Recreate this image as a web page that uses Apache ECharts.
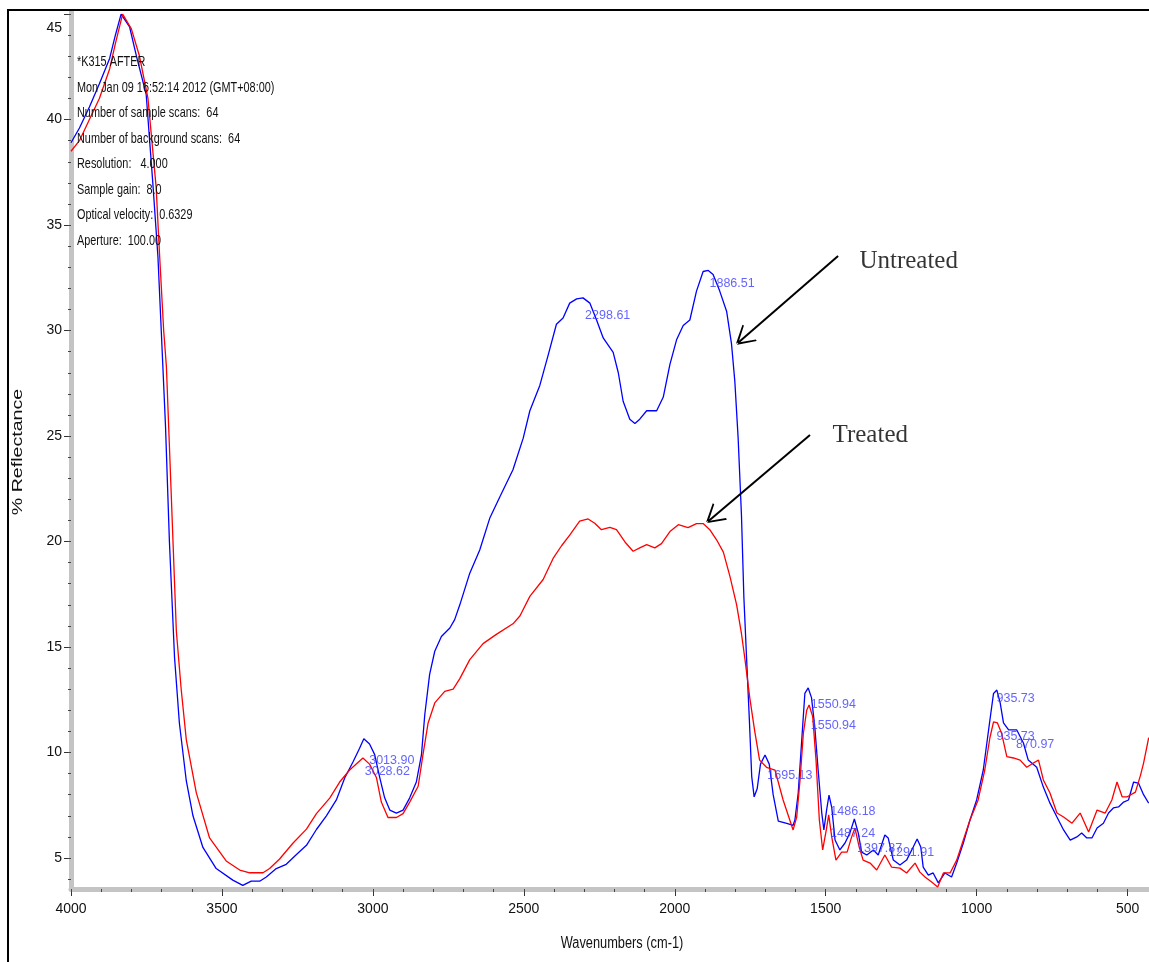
<!DOCTYPE html>
<html>
<head>
<meta charset="utf-8">
<script src="https://cdn.jsdelivr.net/npm/echarts@6/dist/echarts.min.js"></script>
<style>
  html, body { margin: 0; padding: 0; background: #fff; }
  #chart { width: 1149px; height: 962px; }
</style>
</head>
<body>
<div id="chart"></div>
<script>
const SANS = "'Liberation Sans Narrow', 'Arial Narrow', 'Liberation Sans', Arial, sans-serif"

// untreated (blue) spectrum
const untreatedWn = [
  4000, 3972, 3939, 3906, 3872, 3853, 3834, 3806, 3783, 3751,
  3729, 3712, 3701, 3687, 3674, 3657, 3641, 3618, 3596, 3563,
  3519, 3464, 3431, 3403, 3375, 3353, 3320, 3287, 3254, 3220,
  3187, 3154, 3121, 3093, 3066, 3044, 3030, 3011, 2994, 2977,
  2961, 2944, 2922, 2900, 2878, 2856, 2839, 2828, 2812, 2795,
  2773, 2745, 2729, 2712, 2679, 2646, 2613, 2580, 2536, 2502,
  2480, 2447, 2420, 2392, 2370, 2348, 2325, 2304, 2281, 2259,
  2237, 2204, 2187, 2171, 2149, 2132, 2116, 2093, 2060, 2038,
  2016, 1994, 1972, 1950, 1928, 1906, 1889, 1873, 1851, 1828,
  1812, 1801, 1790, 1779, 1771, 1762, 1753, 1745, 1737, 1727,
  1716, 1701, 1687, 1674, 1657, 1629, 1608, 1602, 1591, 1580,
  1569, 1558, 1547, 1536, 1525, 1513, 1506, 1497, 1489, 1480,
  1469, 1453, 1436, 1420, 1405, 1392, 1381, 1364, 1342, 1326,
  1304, 1293, 1276, 1254, 1232, 1210, 1197, 1185, 1177, 1160,
  1144, 1127, 1105, 1083, 1066, 1044, 1022, 1000, 978, 956,
  944, 933, 922, 911, 894, 867, 845, 829, 801, 779,
  757, 734, 712, 690, 668, 652, 635, 618, 601, 580,
  563, 547, 530, 513, 497, 480, 464, 447, 430
]
const untreatedR = [
  38.9, 39.6, 40.6, 41.7, 42.9, 44.0, 45.0, 44.4, 43.0, 41.2,
  37.0, 33.5, 30.0, 25.5, 20.0, 14.5, 11.4, 8.65, 7.0, 5.5,
  4.5, 3.95, 3.7, 3.9, 3.9, 4.1, 4.5, 4.7, 5.15, 5.6,
  6.35, 7.0, 7.75, 8.8, 9.55, 10.2, 10.65, 10.4, 9.9, 8.8,
  7.85, 7.27, 7.13, 7.27, 7.85, 8.6, 9.9, 11.8, 13.7, 14.8,
  15.5, 15.9, 16.3, 17.0, 18.5, 19.6, 21.1, 22.1, 23.4, 24.9,
  26.2, 27.4, 28.8, 30.3, 30.6, 31.3, 31.5, 31.55, 31.3, 30.5,
  29.65, 28.97, 28.0, 26.65, 25.8, 25.6, 25.8, 26.2, 26.2, 26.85,
  28.4, 29.56, 30.24, 30.5, 31.87, 32.8, 32.85, 32.66, 31.87, 30.9,
  29.37, 27.6, 24.9, 21.25, 17.35, 14.45, 11.6, 8.86, 7.9, 8.28,
  9.45, 9.88, 9.45, 8.0, 6.75, 6.64, 6.55, 6.8, 8.08, 10.45,
  12.8, 13.06, 12.6, 11.2, 9.17, 7.13, 6.33, 7.27, 7.98, 7.4,
  5.85, 5.38, 5.71, 6.18, 6.85, 6.18, 5.28, 5.14, 5.38, 5.14,
  6.09, 5.95, 4.9, 4.67, 4.9, 5.52, 5.9, 5.52, 4.57, 4.19,
  4.29, 3.82, 4.29, 4.1, 4.76, 5.71, 6.8, 7.75, 9.17, 11.54,
  12.8, 12.96, 12.35, 11.4, 11.07, 11.07, 10.45, 9.64, 9.3, 8.36,
  7.6, 6.94, 6.33, 5.85, 6.0, 6.18, 5.95, 5.95, 6.42, 6.65,
  7.13, 7.37, 7.42, 7.65, 7.75, 8.6, 8.55, 8.0, 7.6
]

// treated (red) spectrum
const treatedWn = [
  4000, 3972, 3939, 3906, 3872, 3853, 3829, 3800, 3773, 3745,
  3718, 3707, 3693, 3684, 3668, 3651, 3635, 3618, 3585, 3541,
  3486, 3441, 3408, 3364, 3342, 3309, 3265, 3220, 3187, 3143,
  3110, 3077, 3033, 3011, 2988, 2972, 2950, 2922, 2900, 2878,
  2850, 2834, 2817, 2795, 2762, 2734, 2712, 2679, 2635, 2591,
  2536, 2513, 2480, 2436, 2403, 2375, 2348, 2315, 2287, 2265,
  2243, 2215, 2193, 2165, 2138, 2116, 2093, 2066, 2044, 2016,
  1988, 1956, 1928, 1906, 1884, 1861, 1839, 1817, 1795, 1779,
  1768, 1751, 1735, 1719, 1696, 1668, 1641, 1619, 1608, 1596,
  1585, 1574, 1563, 1555, 1543, 1532, 1521, 1510, 1498, 1490,
  1480, 1466, 1447, 1429, 1414, 1403, 1389, 1376, 1353, 1331,
  1304, 1282, 1254, 1232, 1204, 1188, 1171, 1149, 1129, 1110,
  1088, 1066, 1044, 1022, 995, 973, 956, 944, 931, 917,
  900, 878, 856, 834, 812, 795, 779, 757, 734, 712,
  684, 657, 629, 601, 574, 552, 535, 518, 501, 474,
  457, 447, 430
]
const treatedR = [
  38.5, 39.0, 40.0, 41.0, 42.4, 43.6, 45.0, 44.3, 43.0, 41.0,
  36.8, 33.7, 30.0, 28.3, 22.25, 15.75, 13.0, 10.6, 8.1, 5.95,
  4.86, 4.43, 4.3, 4.3, 4.5, 4.95, 5.7, 6.37, 7.1, 7.84,
  8.6, 9.17, 9.74, 9.45, 8.8, 7.65, 6.92, 6.92, 7.1, 7.65,
  8.4, 9.9, 11.4, 12.35, 12.9, 13.0, 13.5, 14.4, 15.16, 15.6,
  16.1, 16.47, 17.4, 18.2, 19.2, 19.8, 20.3, 20.97, 21.07, 20.87,
  20.56, 20.67, 20.56, 19.98, 19.54, 19.7, 19.85, 19.7, 19.9, 20.47,
  20.8, 20.66, 20.85, 20.85, 20.56, 20.07, 19.5, 18.34, 17.0, 15.63,
  14.48, 12.54, 11.0, 9.64, 9.3, 9.17, 7.75, 6.8, 6.33, 6.94,
  8.7, 10.9, 12.0, 12.25, 11.7, 9.64, 6.8, 5.38, 6.33, 7.04,
  6.0, 4.9, 5.28, 5.28, 6.0, 6.42, 5.52, 4.9, 4.76, 4.43,
  5.14, 4.57, 4.52, 4.29, 4.76, 4.33, 4.1, 3.86, 3.62, 4.29,
  4.29, 4.9, 5.85, 6.8, 7.75, 9.17, 10.7, 11.45, 11.4, 10.9,
  9.8, 9.74, 9.64, 9.3, 9.5, 9.64, 8.7, 8.08, 7.13, 6.94,
  6.65, 7.13, 6.23, 7.27, 7.13, 7.75, 8.6, 7.9, 7.9, 8.12,
  8.93, 9.5, 10.7
]

// peak annotations (label text doubles as its wavenumber)
const peakLabels = ['2298.61', '1886.51', '3013.90', '3028.62', '1695.13', '1550.94', '1550.94',
  '1486.18', '1487.24', '1397.87', '1291.91', '935.73', '935.73', '870.97']
const peakLabelY = [30.72, 32.23, 9.64, 9.08, 8.93, 12.25, 11.3, 7.2, 6.17, 5.46, 5.25, 12.57, 10.75, 10.36]

const xTickLabels = [4000, 3500, 3000, 2500, 2000, 1500, 1000, 500]
const yTickLabels = [5, 10, 15, 20, 25, 30, 35, 40, 45]
const xMinorTicks = []
for (let v = 500; v <= 4000; v += 100) xMinorTicks.push(v)
const yMinorTicks = []
for (let v = 4; v <= 45; v++) yMinorTicks.push(v)

const infoLines = [
  '*K315 AFTER',
  'Mon Jan 09 16:52:14 2012 (GMT+08:00)',
  'Number of sample scans:  64',
  'Number of background scans:  64',
  'Resolution:   4.000',
  'Sample gain:  8.0',
  'Optical velocity:  0.6329',
  'Aperture:  100.00'
]

// arrow annotations: [tail, tip] in data coords, and their captions
const arrowNames = ['Untreated', 'Treated']
const arrowTail = [[1459, 33.53], [1552, 25.05]]
const arrowTip = [[1791, 29.41], [1890, 20.95]]
const captionPos = [[1390, 33.29], [1479, 25.05]]

const pairs = (xs, ys) => xs.map((x, i) => [x, ys[i]])

const X_MIN = 429, X_MAX = 4000, Y_MIN = 3.53, Y_MAX = 45.1
const HIDDEN = 'rgba(0,0,0,0)'
// open "V" arrow head in a 32x32 box; tiny corner sub-paths pin the box so the tip sits at the centre
const ARROW_HEAD = 'path://M0,0 L0.02,0 L0,0.02 Z M32,0 L31.98,0 L32,0.02 Z M0,32 L0.02,32 L0,31.98 Z' +
  ' M16.86,14.49 L26.86,31.49 L25.14,32 L15.14,15.51 Z' +
  ' M15.14,14.49 L5.14,31.49 L6.86,32 L16.86,15.51 Z'

const chart = echarts.init(document.getElementById('chart'))

const option = {
  animation: false,
  backgroundColor: '#fff',
  grid: { left: 71, right: 0, top: 12, bottom: 73 },
  xAxis: [
    {
      type: 'value', inverse: true, min: X_MIN, max: X_MAX, position: 'bottom',
      axisLine: { show: true, lineStyle: { color: '#c4c4c4', width: 5 } },
      axisTick: { show: true, customValues: xTickLabels, length: 7, lineStyle: { color: '#333', width: 1 } },
      axisLabel: {
        customValues: xTickLabels, margin: 13, color: '#111',
        fontFamily: SANS, fontSize: 14, formatter: v => String(v)
      },
      splitLine: { show: false }
    },
    {
      type: 'value', inverse: true, min: X_MIN, max: X_MAX, position: 'bottom', offset: 0,
      axisLine: { show: false },
      axisTick: { show: true, customValues: xMinorTicks, length: 3, lineStyle: { color: '#444', width: 1 } },
      axisLabel: { show: false },
      splitLine: { show: false }
    }
  ],
  yAxis: [
    {
      type: 'value', min: Y_MIN, max: Y_MAX, position: 'left',
      axisLine: { show: true, lineStyle: { color: '#c4c4c4', width: 5 } },
      axisTick: { show: true, customValues: yTickLabels, length: 7, lineStyle: { color: '#333', width: 1 } },
      axisLabel: {
        customValues: yTickLabels, margin: 9, color: '#111',
        fontFamily: SANS, fontSize: 14,
        formatter: v => (v === 45 ? '{top|45}' : String(v)),
        rich: { top: { fontFamily: SANS, fontSize: 14, color: '#111', padding: [28, 0, 0, 0] } }
      },
      splitLine: { show: false }
    },
    {
      type: 'value', min: Y_MIN, max: Y_MAX, position: 'left', offset: 0,
      axisLine: { show: false },
      axisTick: { show: true, customValues: yMinorTicks, length: 3, lineStyle: { color: '#444', width: 1 } },
      axisLabel: { show: false },
      splitLine: { show: false }
    }
  ],
  series: [
    {
      name: 'Untreated', type: 'line', data: pairs(untreatedWn, untreatedR),
      showSymbol: false, symbol: 'none', silent: true,
      lineStyle: { color: '#0000ff', width: 1.3 }, z: 3
    },
    {
      name: 'Treated', type: 'line', data: pairs(treatedWn, treatedR),
      showSymbol: false, symbol: 'none', silent: true,
      lineStyle: { color: '#ff0000', width: 1.3 }, z: 4
    },
    {
      name: 'peaks', type: 'scatter', silent: true, z: 5,
      symbolSize: 1, itemStyle: { color: HIDDEN },
      data: peakLabels.map((t, i) => ({ name: t, value: [parseFloat(t), peakLabelY[i]] })),
      label: {
        show: true, position: 'right', distance: 0, formatter: p => p.name,
        color: '#3c3cff', fontFamily: SANS, fontSize: 12.5
      },
      labelLayout: { hideOverlap: false }
    },
    {
      name: 'captions', type: 'scatter', silent: true, z: 6,
      symbolSize: 1, itemStyle: { color: HIDDEN },
      data: arrowNames.map((t, i) => ({ name: t, value: captionPos[i] })),
      label: {
        show: true, position: 'right', distance: 0, formatter: p => p.name,
        color: '#000', fontFamily: "'Liberation Serif', 'Times New Roman', serif", fontSize: 25
      }
    },
    {
      // arrows pointing from the captions to the curves
      name: 'arrows', type: 'line', data: [], silent: true, z: 6,
      itemStyle: { color: '#000' }, lineStyle: { color: '#000' },
      markLine: {
        silent: true, animation: false,
        symbol: ['none', ARROW_HEAD], symbolSize: 32,
        itemStyle: { color: '#000' },
        label: { show: false },
        lineStyle: { color: '#000', width: 2, type: 'solid', opacity: 1 },
        emphasis: { disabled: true },
        data: arrowNames.map((t, i) => [{ coord: arrowTail[i] }, { coord: arrowTip[i] }])
      }
    }
  ],
  graphic: [
    {
      type: 'polyline', silent: true, z: 10,
      shape: { points: [[8, 962], [8, 10], [1149, 10]] },
      style: { stroke: '#000', lineWidth: 2, fill: null }
    },
    {
      type: 'text', silent: true, x: 18, y: 452, rotation: Math.PI / 2, scaleX: 1.4,
      style: {
        text: '% Reflectance', fill: '#111', font: "14px 'Liberation Sans', Arial, sans-serif",
        align: 'center', verticalAlign: 'middle'
      }
    },
    {
      type: 'text', silent: true, x: 622, y: 944, scaleX: 0.8,
      style: {
        text: 'Wavenumbers (cm-1)', fill: '#111', font: '16px ' + SANS,
        align: 'center', verticalAlign: 'middle'
      }
    },
    ...infoLines.map((t, i) => ({
      type: 'text', silent: true, x: 77, y: 62 + i * 25.5, z: 8, scaleX: 0.725,
      style: { text: t, fill: '#111', font: '15px ' + SANS, verticalAlign: 'middle' }
    }))
  ]
}

chart.setOption(option)
window.addEventListener('resize', () => chart.resize())
</script>
</body>
</html>
